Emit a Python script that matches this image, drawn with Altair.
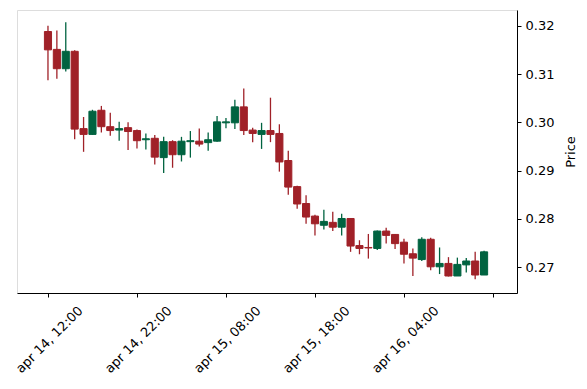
import altair as alt
import pandas as pd

opens  = [.3188,.3151,.3111,.3147,.2987,.2975,.3025,.2991,.2984,.2989,
          .2983,.2964,.2967,.2927,.2960,.2933,.2960,.2961,.2958,.2961,
          .2999,.2999,.3032,.2984,.2975,.2983,.2977,.2921,.2867,.2832,
          .2806,.2787,.2793,.2783,.2801,.2745,.2741,.2739,.2775,.2768,
          .2752,.2728,.2716,.2758,.2701,.2708,.2682,.2705,.2713,.2684]
highs  = [.3200,.3190,.3207,.3149,.3011,.3026,.3034,.3020,.3001,.3000,
          .2985,.2977,.2974,.2970,.2963,.2970,.2982,.2987,.2979,.3013,
          .3009,.3047,.3070,.2989,.2999,.3051,.2996,.2941,.2869,.2849,
          .2809,.2819,.2815,.2811,.2801,.2756,.2769,.2776,.2782,.2769,
          .2759,.2739,.2762,.2761,.2741,.2721,.2720,.2719,.2732,.2734]
lows   = [.3087,.3090,.3105,.2965,.2939,.2974,.2979,.2972,.2962,.2943,
          .2946,.2944,.2913,.2895,.2906,.2919,.2927,.2950,.2941,.2960,
          .2988,.2986,.2974,.2959,.2945,.2959,.2898,.2850,.2821,.2790,
          .2766,.2778,.2775,.2766,.2732,.2727,.2718,.2736,.2749,.2738,
          .2708,.2682,.2713,.2694,.2686,.2681,.2682,.2689,.2675,.2684]
closes = [.3150,.3111,.3147,.2986,.2975,.3023,.2991,.2983,.2987,.2981,
          .2962,.2966,.2928,.2960,.2933,.2961,.2962,.2955,.2964,.3001,
          .3001,.3032,.2983,.2977,.2983,.2975,.2918,.2866,.2831,.2804,
          .2790,.2795,.2783,.2801,.2744,.2739,.2740,.2775,.2766,.2749,
          .2727,.2719,.2758,.2701,.2708,.2682,.2706,.2713,.2684,.2732]

tick_positions = [0, 10, 20, 30, 40, 50]
tick_labels = ["apr 14, 12:00", "apr 14, 22:00", "apr 15, 08:00",
               "apr 15, 18:00", "apr 16, 04:00", ""]
y_ticks = [0.27, 0.28, 0.29, 0.30, 0.31, 0.32]

n = len(opens)
df = pd.DataFrame({
    "i": list(range(n)),
    "open": opens, "high": highs, "low": lows, "close": closes,
})
df["xl"] = df["i"] - 0.4
df["xr"] = df["i"] + 0.4
df["dir"] = ["up" if c >= o else "down" for o, c in zip(opens, closes)]

label_js = "[" + ",".join("'" + t + "'" for t in tick_labels) + "][round(datum.value/10)]"

color = alt.Color("dir:N", scale=alt.Scale(domain=["up", "down"], range=["#006340", "#a02128"]), legend=None)

xscale = alt.Scale(domain=[-3.48, 52.7], nice=False, zero=False)
yscale = alt.Scale(domain=[0.26468, 0.32325], nice=False, zero=False)

font = "DejaVu Sans"

xaxis = alt.Axis(values=tick_positions, labelExpr=label_js, labelAngle=-45,
                 labelAlign="right", labelBaseline="top", labelOffset=28, labelPadding=7,
                 title=None, grid=False, tickSize=4, tickColor="black",
                 domainColor="black", labelColor="black", labelFont=font, labelFontSize=13)
yaxis = alt.Axis(values=y_ticks, format=".2f", orient="right", title="Price",
                 grid=False, tickSize=4, tickColor="black", domainColor="black",
                 labelColor="black", labelFont=font, labelFontSize=13, labelPadding=4,
                 titleFont=font, titleFontSize=13, titleFontWeight="normal",
                 titleColor="black", titleAngle=270, titleX=53, titleY=141.5,
                 titleAlign="center", titleBaseline="middle")

wicks = alt.Chart(df).mark_rule(strokeWidth=1.3).encode(
    x=alt.X("i:Q", scale=xscale, axis=xaxis),
    y=alt.Y("low:Q", scale=yscale, axis=yaxis),
    y2="high:Q",
    color=color,
)
bodies = alt.Chart(df).mark_bar(strokeWidth=1).encode(
    x=alt.X("xl:Q", scale=xscale),
    x2="xr:Q",
    y=alt.Y("open:Q", scale=yscale),
    y2="close:Q",
    color=color,
    stroke=color,
)

chart = alt.layer(wicks, bodies).properties(
    width=500, height=283,
    autosize=alt.AutoSizeParams(type="none"),
    padding={"left": 9, "top": 2, "right": 60, "bottom": 87},
).configure_view(stroke="black", strokeWidth=1).configure(background="white")

chart.save("out.html", embed_options={"renderer": "svg", "actions": False})
